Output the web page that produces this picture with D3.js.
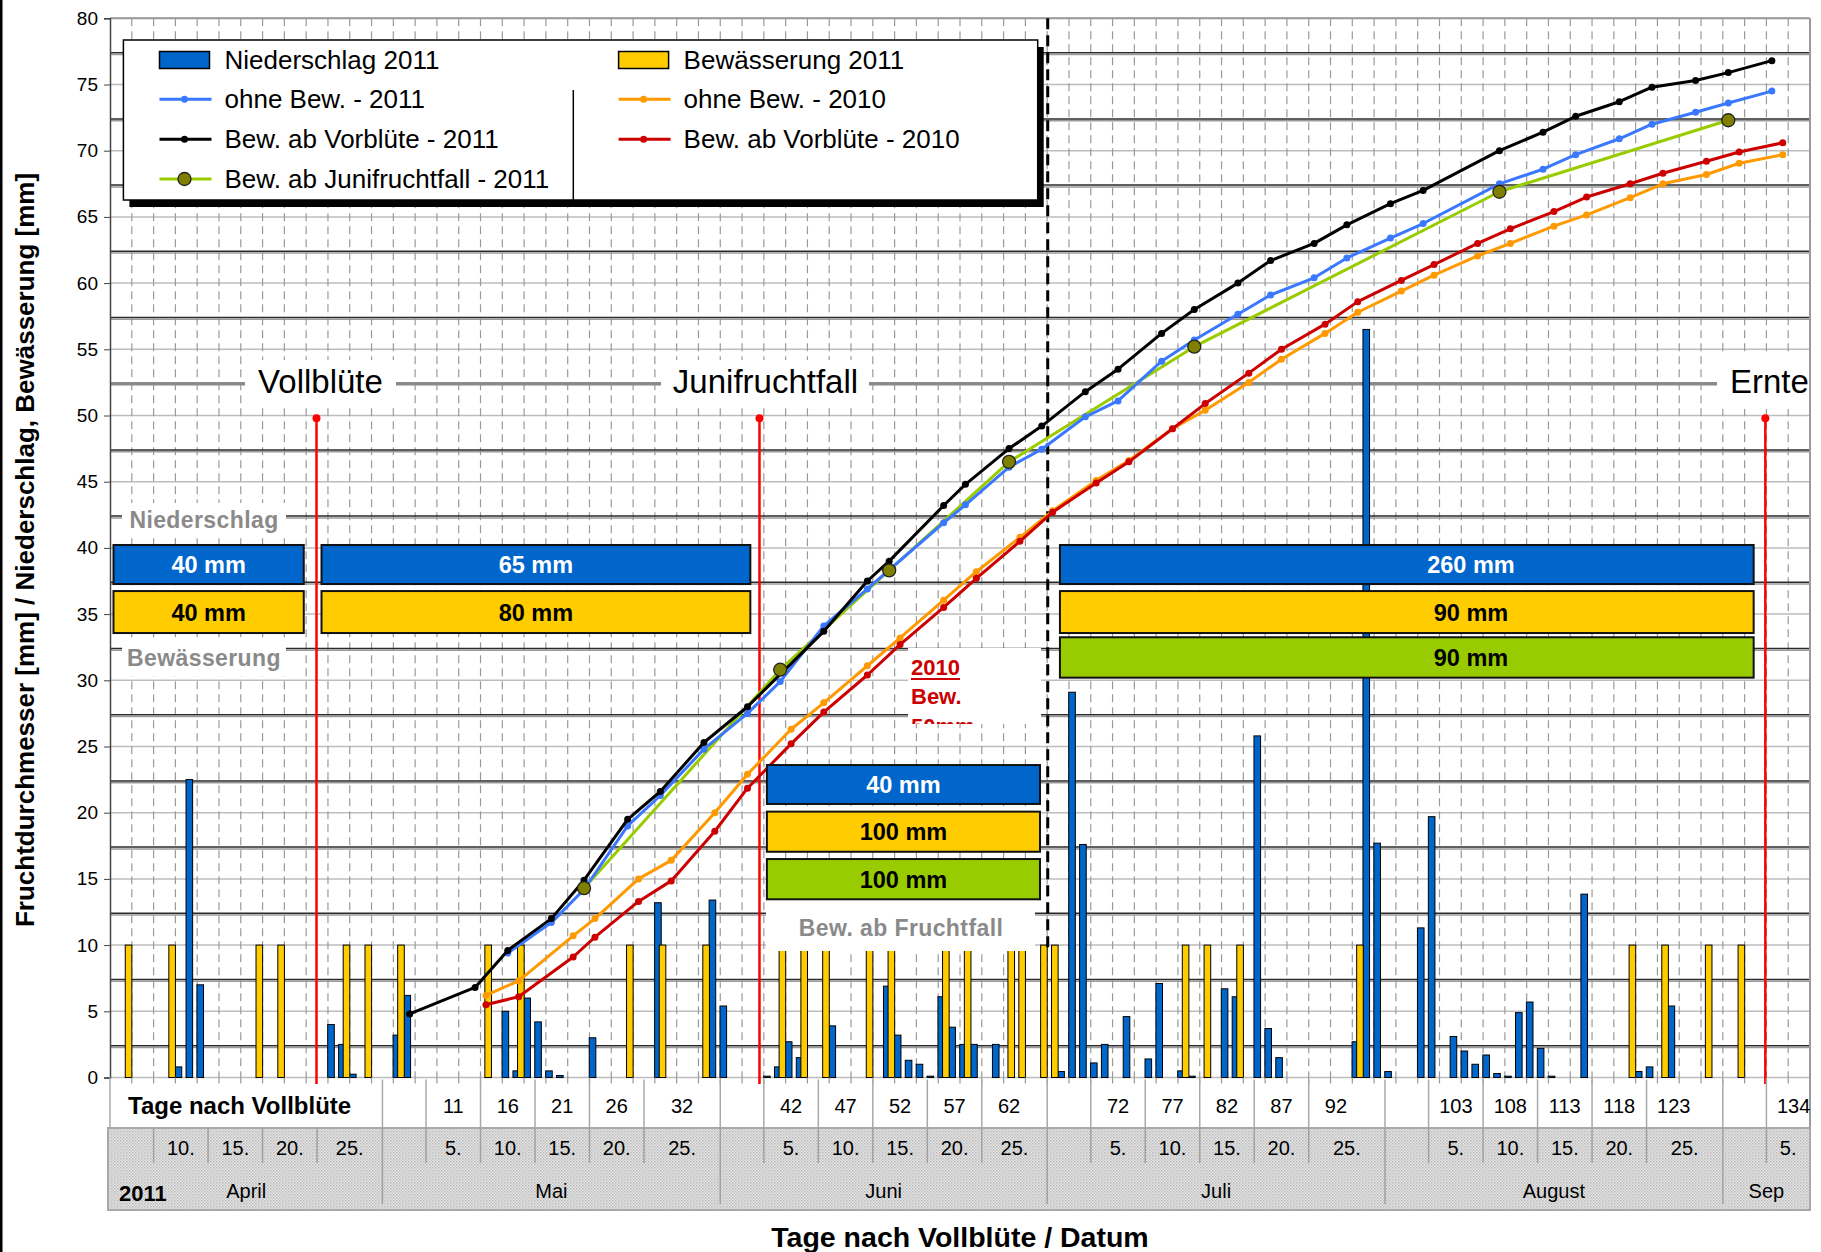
<!DOCTYPE html>
<html><head><meta charset="utf-8">
<script src="https://cdn.jsdelivr.net/npm/d3@7"></script>
<style>
body{margin:0;background:#fff}
svg{display:block}
text{font-family:"Liberation Sans",Arial,sans-serif}
</style>
</head><body>
<svg id="c" width="1821" height="1252"></svg>
<script>
// ---------------- DATA ----------------
// days after full bloom (Vollblüte = 24 April 2011 = day 0)
const rainDays = [-14,-13,-12,0,1,2,6,7,16,17,18,19,20,21,24,30,35,36,40,41,42,43,46,51,52,53,54,55,56,57,58,59,61,67,68,69,70,71,73,75,76,78,79,82,83,85,86,87,94,95,96,97,100,101,103,104,105,106,107,108,109,110,111,112,115,120,121,123];
const rainMM = [0.8,22.5,7.0,4.0,2.5,0.25,3.2,6.2,5.0,0.5,6.0,4.2,0.5,0.15,3.0,13.2,13.4,5.4,0.1,0.8,2.7,1.5,3.9,6.9,3.2,1.3,1.0,0.1,6.1,3.8,2.5,2.5,2.5,0.45,29.1,17.6,1.1,2.5,4.6,1.4,7.1,0.5,0.1,6.7,6.1,25.8,3.7,1.5,2.7,56.5,17.7,0.45,11.3,19.7,3.1,2.0,1.0,1.7,0.3,0.1,4.9,5.7,2.2,0.1,13.85,0.45,0.8,5.4];
const irrigDays = [-19,-15,-7,-5,1,3,6,14,17,27,30,34,41,43,45,49,51,56,58,62,63,65,66,78,80,83,94,119,122,126,129];
const irrigMM = [10,10,10,10,10,10,10,10,10,10,10,10,10,10,10,10,10,10,10,10,10,10,10,10,10,10,10,10,10,10,10];

const ohne2011Days = [16,20,23,27,30,34,38,41,45,49,56,58,62,65,69,72,76,79,83,86,90,93,97,100,107,111,114,118,121,125,128,132];
const ohne2011 = [9.4,11.7,14.2,19.0,21.3,24.8,27.5,29.9,34.1,36.9,41.9,43.25,46.1,47.45,49.9,51.1,54.1,55.7,57.65,59.1,60.4,61.9,63.4,64.5,67.5,68.6,69.7,70.9,72.0,72.9,73.6,74.5];
const vorb2011Days = [7,13,16,20,23,27,30,34,38,45,49,51,56,58,62,65,69,72,76,79,83,86,90,93,97,100,107,111,114,118,121,125,128,132];
const vorb2011 = [4.8,6.8,9.6,12.0,14.9,19.5,21.6,25.3,28.0,33.7,37.5,39.0,43.2,44.8,47.5,49.2,51.8,53.5,56.2,58.0,60.0,61.7,63.0,64.4,66.0,67.0,70.0,71.4,72.6,73.7,74.8,75.3,75.9,76.8];
const juni2011Days = [23,41,51,62,79,107,128];
const juni2011 = [14.3,30.8,38.3,46.5,55.2,66.9,72.3];
const y2010Days = [14,17,22,24,28,31,35,38,42,45,49,52,56,59,63,66,70,73,77,80,84,87,91,94,98,101,105,108,112,115,119,122,126,129,133];
const ohne2010 = [6.2,7.3,10.7,12.0,15.0,16.4,20.0,22.9,26.3,28.3,31.1,33.2,36.05,38.2,40.8,42.8,45.1,46.6,49.0,50.4,52.5,54.25,56.2,57.8,59.4,60.6,62.05,63.0,64.3,65.15,66.45,67.5,68.2,69.05,69.7];
const vorb2010 = [5.5,6.1,9.1,10.6,13.3,14.85,18.6,21.85,25.2,27.6,30.4,32.7,35.5,37.7,40.5,42.7,44.9,46.5,49.0,50.9,53.2,55.0,56.9,58.6,60.2,61.4,63.0,64.1,65.4,66.5,67.5,68.3,69.2,69.9,70.6];

const yTicks = [0,5,10,15,20,25,30,35,40,45,50,55,60,65,70,75,80];
const dayTicks = [11,16,21,26,32,42,47,52,57,62,72,77,82,87,92,103,108,113,118,123,134];
const dateBounds = [-20.5,-16.5,-11.5,-6.5,-1.5,4.5,8.5,13.5,18.5,23.5,28.5,35.5,39.5,44.5,49.5,54.5,59.5,65.5,69.5,74.5,79.5,84.5,89.5,96.5,100.5,105.5,110.5,115.5,120.5,127.5,131.5,135.5];
const dateLabels = ["","10.","15.","20.","25.","","5.","10.","15.","20.","25.","","5.","10.","15.","20.","25.","","5.","10.","15.","20.","25.","","5.","10.","15.","20.","25.","","5."];
const monthBounds = [-20.5,4.5,35.5,65.5,96.5,127.5,135.5];
const monthLabels = ["April","Mai","Juni","Juli","August","Sep"];
const phaseDays = [-1.55, 39.1, 131.4];
const phaseLabels = ["Vollblüte","Junifruchtfall","Ernte"];
const fruchtfallEnd = 65.55;

// period sums (boxes)
const rainSumLabels = ["40 mm","65 mm","40 mm","260 mm"];
const irrigSumLabels = ["40 mm","80 mm","100 mm","90 mm"];
const juniSumLabels = ["100 mm","90 mm"];

// ---------------- CHART ----------------
const svg = d3.select("#c");
const X0 = 110, X1 = 1810, YB = 1077.5, YT = 18.3;
const x = d3.scaleLinear().domain([-20.5,135.5]).range([X0,X1]);
const y = d3.scaleLinear().domain([0,80]).range([YB,YT]);

const C = {rain:"#0066cc", irr:"#ffcc00", green:"#99cc00", blue:"#3a78ff", black:"#000", orange:"#ff9900", red:"#cc0000", olive:"#808000", phase:"#ff0000"};

svg.append("rect").attr("width",1821).attr("height",1252).attr("fill","#fff");
svg.append("rect").attr("x",0).attr("y",0).attr("width",2.5).attr("height",1252).attr("fill","#000");

// pattern for date band
const defs = svg.append("defs");
const pat = defs.append("pattern").attr("id","dots").attr("width",3).attr("height",3).attr("patternUnits","userSpaceOnUse");
pat.append("rect").attr("width",3).attr("height",3).attr("fill","#e6e6e6");
pat.append("rect").attr("width",1.5).attr("height",1.5).attr("fill","#b8b8b8");
pat.append("rect").attr("x",1.5).attr("y",1.5).attr("width",1.5).attr("height",1.5).attr("fill","#c8c8c8");

// horizontal grid (every 5)
const grid = svg.append("g");
grid.selectAll("line.h").data(yTicks).join("line")
  .attr("x1",X0).attr("x2",X1).attr("y1",d=>y(d)).attr("y2",d=>y(d))
  .attr("stroke","#bdbdbd").attr("stroke-width",1.5);
// vertical dashed grid every 2 days
grid.selectAll("line.v").data(d3.range(-18.5,135.5,2)).join("line")
  .attr("x1",d=>x(d)).attr("x2",d=>x(d)).attr("y1",YT).attr("y2",YB)
  .attr("stroke","#9a9a9a").attr("stroke-width",1.2).attr("stroke-dasharray","8,5");
// dark secondary lines
const darkVals = d3.range(0,16).map(k=>2.4+5*k).filter(v=>Math.abs(v-52.4)>0.1);
darkVals.forEach(v=>{
  grid.append("line").attr("x1",X0).attr("x2",X1).attr("y1",y(v)).attr("y2",y(v)).attr("stroke","#2a2a2a").attr("stroke-width",1.5);
  grid.append("line").attr("x1",X0).attr("x2",X1).attr("y1",y(v)+1.8).attr("y2",y(v)+1.8).attr("stroke","#9a9a9a").attr("stroke-width",1.5);
});
grid.append("line").attr("x1",X0).attr("x2",X1).attr("y1",y(52.4)).attr("y2",y(52.4)).attr("stroke","#8a8a8a").attr("stroke-width",3.5);

// plot border
svg.append("line").attr("x1",X0).attr("x2",X1).attr("y1",YT).attr("y2",YT).attr("stroke","#9a9a9a").attr("stroke-width",2);
svg.append("line").attr("x1",X1).attr("x2",X1).attr("y1",YT).attr("y2",1128).attr("stroke","#9a9a9a").attr("stroke-width",2);

// y axis
const yAxis = svg.append("g").attr("transform",`translate(${X0},0)`)
  .call(d3.axisLeft(y).tickValues(yTicks).tickSize(6).tickPadding(6));
yAxis.select(".domain").attr("stroke","#444").attr("stroke-width",1.5);
yAxis.selectAll(".tick line").attr("stroke","#444");
yAxis.selectAll("text").attr("font-size",19).attr("fill","#000").style("font-family",'"Liberation Sans",Arial,sans-serif');

// bars
const bw = 6.6;
const rainData = rainDays.map((d,i)=>({d,v:rainMM[i]}));
const irrData = irrigDays.map((d,i)=>({d,v:irrigMM[i]}));
svg.append("g").selectAll("rect").data(rainData).join("rect")
  .attr("x",d=>x(d.d)-2.4-bw/2).attr("width",bw)
  .attr("y",d=>y(d.v)).attr("height",d=>y(0)-y(d.v))
  .attr("fill",C.rain).attr("stroke","#000").attr("stroke-width",1);
svg.append("g").selectAll("rect").data(irrData).join("rect")
  .attr("x",d=>x(d.d)+2.2-bw/2).attr("width",bw)
  .attr("y",d=>y(d.v)).attr("height",d=>y(0)-y(d.v))
  .attr("fill",C.irr).attr("stroke","#000").attr("stroke-width",1);

// white label boxes
function whiteBox(x0,y0,x1,y1){svg.append("rect").attr("x",x0).attr("y",y0).attr("width",x1-x0).attr("height",y1-y0).attr("fill","#fff");}
// phase labels
const phaseBoxes = [[245,360,396,406],[661,360,869,406],[1717,356,1809,409]];
phaseBoxes.forEach(b=>whiteBox(...b));
phaseLabels.forEach((t,i)=>{
  svg.append("text").attr("x",x(phaseDays[i])+(i===1?6:4)).attr("y",393).attr("text-anchor","middle")
    .attr("font-size",33).text(t);
});
// Niederschlag / Bewässerung labels
whiteBox(122,503,286,537);
whiteBox(122,640,286,676);
svg.append("text").attr("x",204).attr("y",528).attr("text-anchor","middle").attr("font-size",23).attr("font-weight","bold").attr("fill","#8a8a8a").attr("letter-spacing",0.4).text("Niederschlag");
svg.append("text").attr("x",204).attr("y",666).attr("text-anchor","middle").attr("font-size",23).attr("font-weight","bold").attr("fill","#8a8a8a").attr("letter-spacing",0.4).text("Bewässerung");
// Bew. ab Fruchtfall
whiteBox(766,900,1035,951);
svg.append("text").attr("x",901).attr("y",936).attr("text-anchor","middle").attr("font-size",23).attr("font-weight","bold").attr("fill","#8a8a8a").attr("letter-spacing",0.4).text("Bew. ab Fruchtfall");
// 2010 Bew. 50mm (clipped)
defs.append("clipPath").attr("id","clip2010").append("rect").attr("x",908).attr("y",648).attr("width",133).attr("height",76);
const g2010 = svg.append("g").attr("clip-path","url(#clip2010)");
g2010.append("rect").attr("x",908).attr("y",648).attr("width",133).attr("height",76).attr("fill","#fff");
g2010.append("text").attr("x",911).attr("y",675).attr("font-size",22).attr("font-weight","bold").attr("fill",C.red).text("2010");
g2010.append("line").attr("x1",911).attr("x2",960).attr("y1",679).attr("y2",679).attr("stroke",C.red).attr("stroke-width",2);
g2010.append("text").attr("x",911).attr("y",704).attr("font-size",22).attr("font-weight","bold").attr("fill",C.red).text("Bew.");
g2010.append("text").attr("x",911).attr("y",734).attr("font-size",22).attr("font-weight","bold").attr("fill",C.red).text("50mm");

// phase red lines
phaseDays.forEach(d=>{
  svg.append("line").attr("x1",x(d)).attr("x2",x(d)).attr("y1",y(49.8)).attr("y2",1084).attr("stroke",C.phase).attr("stroke-width",2.5);
  svg.append("circle").attr("cx",x(d)).attr("cy",y(49.8)).attr("r",4).attr("fill",C.phase);
});
// dashed end of Fruchtfall-period line
svg.append("line").attr("x1",x(fruchtfallEnd)).attr("x2",x(fruchtfallEnd)).attr("y1",YT).attr("y2",y(9.6))
  .attr("stroke","#000").attr("stroke-width",3).attr("stroke-dasharray","11,6");

// series lines
const line = d3.line().x(d=>x(d.d)).y(d=>y(d.v));
function series(days,vals,color,dot){
  const data = days.map((d,i)=>({d,v:vals[i]}));
  svg.append("path").datum(data).attr("d",line).attr("fill","none").attr("stroke",color).attr("stroke-width",3).attr("stroke-linejoin","round");
  if(dot){
    svg.append("g").selectAll("circle").data(data).join("circle").attr("cx",d=>x(d.d)).attr("cy",d=>y(d.v)).attr("r",3.5).attr("fill",color);
  }
  return data;
}
series(y2010Days,ohne2010,C.orange,true);
series(y2010Days,vorb2010,C.red,true);
const gd = series(juni2011Days,juni2011,C.green,false);
series(ohne2011Days,ohne2011,C.blue,true);
series(vorb2011Days,vorb2011,C.black,true);
svg.append("g").selectAll("circle").data(gd).join("circle").attr("cx",d=>x(d.d)).attr("cy",d=>y(d.v)).attr("r",6.5)
  .attr("fill",C.olive).attr("stroke","#222").attr("stroke-width",1.3);

// sum boxes
function sumBox(d0,d1,v0,v1,fill,txt,tcol,tx){
  const x0=x(d0),x1=x(d1),yy0=y(v0),yy1=y(v1);
  svg.append("rect").attr("x",x0).attr("y",yy0).attr("width",x1-x0).attr("height",yy1-yy0).attr("fill",fill).attr("stroke","#111").attr("stroke-width",2);
  svg.append("text").attr("x",tx==null?(x0+x1)/2:tx).attr("y",(yy0+yy1)/2+8.5).attr("text-anchor","middle").attr("font-size",23.5).attr("font-weight","bold").attr("fill",tcol).text(txt);
}
const periods = [[-20.18,-2.72],[-1.09,38.26],[39.78,64.84],[66.67,130.33]];
const rows = {rain:[40.22,37.27], irr:[36.74,33.57], juni:[33.25,30.2]};
const rowsMid = {rain:[23.6,20.66], irr:[20.08,17.05], juni:[16.5,13.46]};
periods.forEach((p,i)=>{
  const r = i===2 ? rowsMid : rows;
  const tx = i===3 ? 1471 : null;
  sumBox(p[0],p[1],r.rain[0],r.rain[1],C.rain,rainSumLabels[i],"#fff",tx);
  sumBox(p[0],p[1],r.irr[0],r.irr[1],C.irr,irrigSumLabels[i],"#000",tx);
  if(i>=2) sumBox(p[0],p[1],r.juni[0],r.juni[1],C.green,juniSumLabels[i-2],"#000",tx);
});

// legend
const L = {x0:123.4,y0:40,x1:1037.7,y1:200};
svg.append("rect").attr("x",L.x0+6).attr("y",L.y0+7).attr("width",L.x1-L.x0).attr("height",L.y1-L.y0).attr("fill","#000");
svg.append("rect").attr("x",L.x0).attr("y",L.y0).attr("width",L.x1-L.x0).attr("height",L.y1-L.y0).attr("fill","#fff").attr("stroke","#000").attr("stroke-width",1.5);
svg.append("line").attr("x1",573.3).attr("x2",573.3).attr("y1",90).attr("y2",L.y1).attr("stroke","#000").attr("stroke-width",1.5);
const legItems = [
  {col:0,row:0,type:"rect",color:C.rain,t:"Niederschlag 2011"},
  {col:0,row:1,type:"line",color:C.blue,t:"ohne Bew. - 2011"},
  {col:0,row:2,type:"line",color:C.black,t:"Bew. ab Vorblüte - 2011"},
  {col:0,row:3,type:"olive",color:C.green,t:"Bew. ab Junifruchtfall - 2011"},
  {col:1,row:0,type:"rect",color:C.irr,t:"Bewässerung 2011"},
  {col:1,row:1,type:"line",color:C.orange,t:"ohne Bew. - 2010"},
  {col:1,row:2,type:"line",color:C.red,t:"Bew. ab Vorblüte - 2010"}
];
const rowY=[60,99.3,139.3,179], colX=[159.5,618.6];
legItems.forEach(it=>{
  const sx=colX[it.col], cy=rowY[it.row];
  if(it.type==="rect"){
    svg.append("rect").attr("x",sx).attr("y",cy-8.5).attr("width",50).attr("height",17).attr("fill",it.color).attr("stroke","#000").attr("stroke-width",1.5);
  } else {
    svg.append("line").attr("x1",sx).attr("x2",sx+52).attr("y1",cy).attr("y2",cy).attr("stroke",it.color).attr("stroke-width",3);
    if(it.type==="olive") svg.append("circle").attr("cx",sx+25).attr("cy",cy).attr("r",6.5).attr("fill",C.olive).attr("stroke","#222").attr("stroke-width",1.3);
    else svg.append("circle").attr("cx",sx+25).attr("cy",cy).attr("r",3.5).attr("fill",it.color);
  }
  svg.append("text").attr("x",sx+65).attr("y",cy+9).attr("font-size",26).text(it.t);
});

// ---------- bottom axis band ----------
const R1b=1128, R2b=1163, R3b=1210;
svg.append("rect").attr("x",108).attr("y",R1b).attr("width",X1-108).attr("height",R3b-R1b).attr("fill","url(#dots)").attr("stroke","#a8a8a8").attr("stroke-width",2);
svg.append("line").attr("x1",X0).attr("x2",X0).attr("y1",YB).attr("y2",R1b).attr("stroke","#a8a8a8").attr("stroke-width",1.5);
// minor ticks
svg.append("g").selectAll("line").data(d3.range(-18.5,135.5,2)).join("line")
  .attr("x1",d=>x(d)).attr("x2",d=>x(d)).attr("y1",YB).attr("y2",YB+6).attr("stroke","#999").attr("stroke-width",1.2);
// row1 separators
const row1Seps = dateBounds.filter(d=>d>=4.5 && d<135.5);
svg.append("g").selectAll("line").data(row1Seps).join("line")
  .attr("x1",d=>x(d)).attr("x2",d=>x(d)).attr("y1",YB+2).attr("y2",R1b).attr("stroke","#a8a8a8").attr("stroke-width",1.5);
// row2 separators
svg.append("g").selectAll("line").data(dateBounds.slice(1,-1)).join("line")
  .attr("x1",d=>x(d)).attr("x2",d=>x(d)).attr("y1",R1b).attr("y2",R2b).attr("stroke","#a0a0a0").attr("stroke-width",1.5);
// month separators
svg.append("g").selectAll("line").data(monthBounds.slice(1,-1)).join("line")
  .attr("x1",d=>x(d)).attr("x2",d=>x(d)).attr("y1",R2b).attr("y2",R3b-6).attr("stroke","#a0a0a0").attr("stroke-width",1.5);
// row1 labels
svg.append("text").attr("x",128).attr("y",1114).attr("font-size",24).attr("font-weight","bold").text("Tage nach Vollblüte");
svg.append("g").selectAll("text").data(dayTicks).join("text")
  .attr("x",d=>x(d)).attr("y",1113).attr("text-anchor","middle").attr("font-size",20).text(d=>d);
// date labels
const dateCells = dateLabels.map((t,i)=>({t,c:(dateBounds[i]+dateBounds[i+1])/2})).filter(d=>d.t);
svg.append("g").selectAll("text").data(dateCells).join("text")
  .attr("x",d=>x(d.c)).attr("y",1155).attr("text-anchor","middle").attr("font-size",20).text(d=>d.t);
// months
svg.append("g").selectAll("text").data(monthLabels).join("text")
  .attr("x",(d,i)=>x((monthBounds[i]+monthBounds[i+1])/2)).attr("y",1198).attr("text-anchor","middle").attr("font-size",20).text(d=>d);
svg.append("text").attr("x",119).attr("y",1201).attr("font-size",22).attr("font-weight","bold").text("2011");

// axis titles
svg.append("text").attr("transform","translate(34,550) rotate(-90)").attr("text-anchor","middle")
  .attr("font-size",26).attr("font-weight","bold").text("Fruchtdurchmesser [mm] / Niederschlag, Bewässerung [mm]");
svg.append("text").attr("x",960).attr("y",1247).attr("text-anchor","middle").attr("font-size",28.5).attr("font-weight","bold").text("Tage nach Vollblüte / Datum");
</script>
</body></html>
